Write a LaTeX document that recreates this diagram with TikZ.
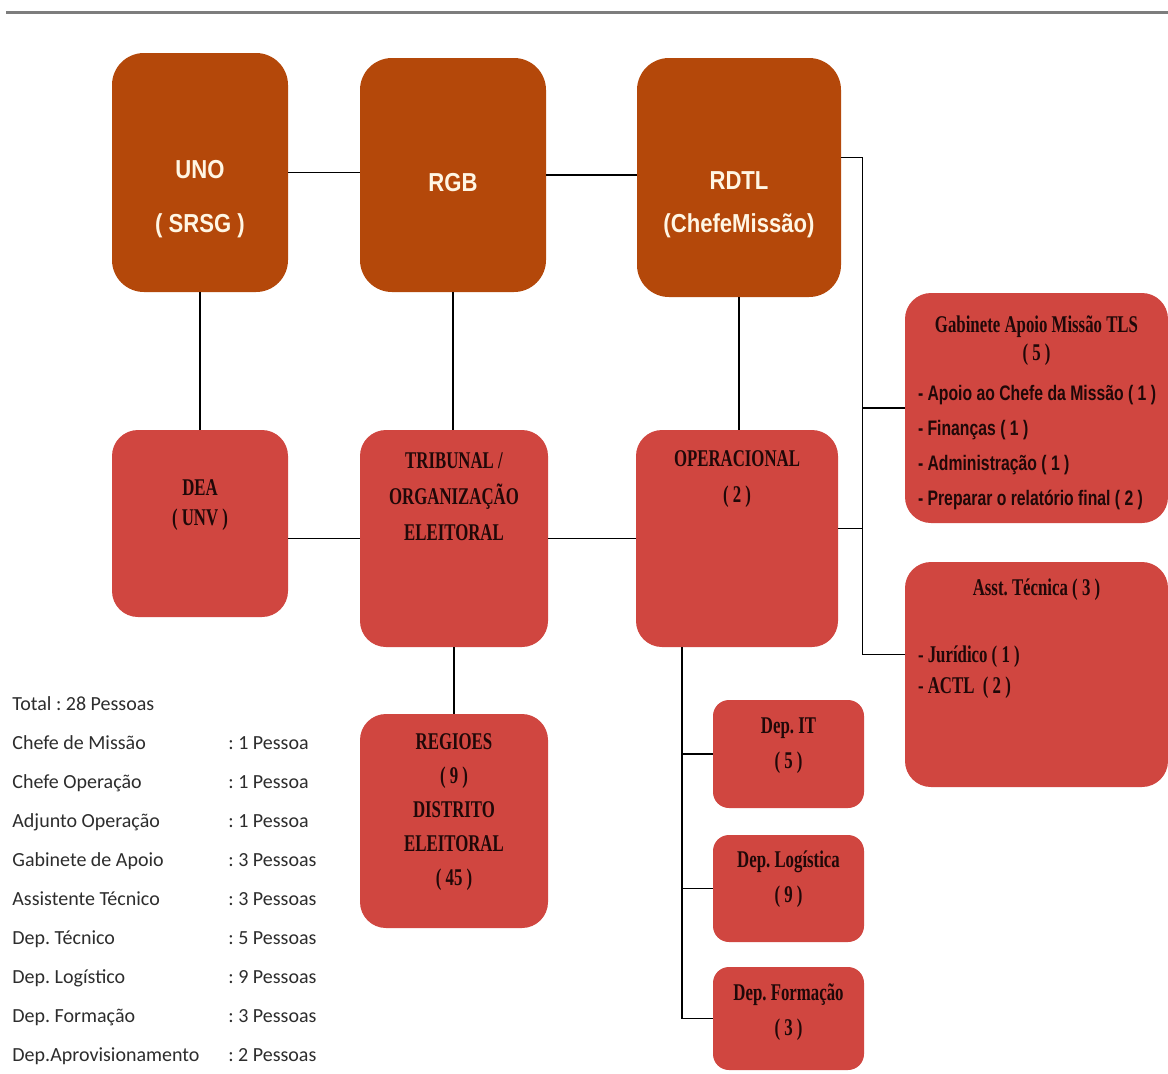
\documentclass[tikz,border=0pt]{standalone}
\usepackage{fontspec}
\usepackage{xcolor}
\usetikzlibrary{positioning}
\setmainfont{Liberation Serif}
\newfontfamily\topfont[FakeStretch=0.85]{Liberation Sans}
\newfontfamily\boxfont[FakeStretch=0.7]{Liberation Serif}
\newfontfamily\itemfont[FakeStretch=0.75]{Liberation Sans}
\newfontfamily\legendfont{Carlito}
\definecolor{topbrown}{RGB}{180,72,10}
\definecolor{boxred}{RGB}{208,70,64}
\definecolor{toptext}{RGB}{255,246,228}
\definecolor{boxtext}{RGB}{32,8,8}
\definecolor{rulegray}{RGB}{125,125,125}
\definecolor{legendgray}{RGB}{45,45,45}
\frenchspacing

\begin{document}
\begin{tikzpicture}[x=0.5pt,y=-0.5pt,
  topbox/.style={fill=topbrown, rounded corners=16pt, inner sep=0pt},
  redbox/.style={fill=boxred, rounded corners=13pt, inner sep=0pt},
  depbox/.style={redbox, rounded corners=8pt, minimum width=75.5pt},
  toplabel/.style={text=toptext, font=\topfont\bfseries\fontsize{13}{16}\selectfont, align=center, inner sep=0pt},
  boxlabel/.style={text=boxtext, font=\boxfont\bfseries\fontsize{12}{18}\selectfont, align=center, inner sep=0pt},
  itemlabel/.style={text=boxtext, font=\itemfont\bfseries\fontsize{10.5}{17.5}\selectfont, align=left, inner sep=0pt},
  legendtxt/.style={text=legendgray, font=\legendfont\fontsize{10}{12}\selectfont, inner sep=0pt},
  link/.style={draw=black, line width=0.8pt}]
  \useasboundingbox (0,0) rectangle (1168,1073);
  \fill[white] (0,0) rectangle (1168,1073);
  \draw[rulegray, line width=1.5pt] (6,12) -- (1168,12);

  % top row
  \node (uno) [topbox, minimum width=88pt, minimum height=119.5pt] at (200,172.5) {};
  \node (rgb) [topbox, minimum width=93pt, minimum height=117pt] at (453,175) {};
  \node (rdtl) [topbox, minimum width=102pt, minimum height=119.5pt] at (739,177.5) {};
  \node (unotxt) [toplabel] at ([yshift=-13.25pt]uno.center) {UNO\\[11pt]( SRSG )};
  \node (rgbtxt) [toplabel] at ([yshift=-4pt]rgb.center) {RGB};
  \node (rdtltxt) [toplabel] at ([yshift=-13.5pt]rdtl.center) {RDTL\\[5.5pt](ChefeMissão)};

  % second row
  \node (dea) [redbox, minimum width=88pt, minimum height=93.5pt] at (200,523.5) {};
  \node (trib) [redbox, minimum width=94pt, minimum height=108.5pt] at (454,538.5) {};
  \node (oper) [redbox, minimum width=101pt, minimum height=108.5pt] at (737,538.5) {};
  \node (deatxt) [boxlabel] at ([yshift=9.25pt]dea.center) {DEA\\[-3pt]( UNV )};
  \node (tribtxt) [boxlabel] at ([yshift=20.75pt]trib.center) {TRIBUNAL /\\ORGANIZAÇÃO\\ELEITORAL};
  \node (opertxt) [boxlabel] at ([yshift=29.75pt]oper.center) {OPERACIONAL\\( 2 )};

  % right column
  \node (gab) [redbox, minimum width=131.5pt, minimum height=115pt] at (1036.5,408) {};
  \node (asst) [redbox, minimum width=131.5pt, minimum height=112.5pt] at (1036.5,674.5) {};
  \node (gabtxt) [boxlabel] at ([yshift=33.5pt]gab.center) {Gabinete Apoio Missão TLS\\[-4pt]( 5 )};
  \node (gabitems) [itemlabel, anchor=west] at ([xshift=6.5pt,yshift=-19.75pt]gab.west)
    {- Apoio ao Chefe da Missão ( 1 )\\- Finanças ( 1 )\\- Administração ( 1 )\\- Preparar o relatório final ( 2 )};
  \node (assttxt) [boxlabel] at ([yshift=42.25pt]asst.center) {Asst. Técnica ( 3 )};
  \node (asstitems) [boxlabel, align=left, anchor=west] at ([xshift=6.5pt,yshift=1pt]asst.west)
    {- Jurídico ( 1 )\\[-2.5pt]- ACTL \ ( 2 )};

  % lower boxes
  \node (regioes) [redbox, minimum width=94pt, minimum height=107pt] at (454,821) {};
  \node (regtxt) [boxlabel] at ([yshift=4.25pt]regioes.center) {REGIOES\\[-1pt]( 9 )\\[-1pt]DISTRITO\\[-1pt]ELEITORAL\\[-1pt]( 45 )};
  \node (depit) [depbox, minimum height=54pt] at (788.5,754) {};
  \node (deplog) [depbox, minimum height=53.5pt] at (788.5,888.5) {};
  \node (depform) [depbox, minimum height=51.5pt] at (788.5,1018.5) {};
  \node (depittxt) [boxlabel] at ([yshift=4.25pt]depit.center) {Dep. IT\\[-0.5pt]( 5 )};
  \node (deplogtxt) [boxlabel] at ([yshift=4.5pt]deplog.center) {Dep. Logística\\[-0.5pt]( 9 )};
  \node (depformtxt) [boxlabel] at ([yshift=3pt]depform.center) {Dep. Formação\\[-0.5pt]( 3 )};

  % staff count
  \node (legend) [legendtxt, anchor=base west] at (12,710) {\renewcommand{\arraystretch}{1.625}%
    \begin{tabular}[t]{@{}p{108pt}@{}l@{}}
      \multicolumn{2}{@{}l@{}}{Total : 28 Pessoas}\\
      Chefe de Missão & : 1 Pessoa\\
      Chefe Operação & : 1 Pessoa\\
      Adjunto Operação & : 1 Pessoa\\
      Gabinete de Apoio & : 3 Pessoas\\
      Assistente Técnico & : 3 Pessoas\\
      Dep. Técnico & : 5 Pessoas\\
      Dep. Logístico & : 9 Pessoas\\
      Dep. Formação & : 3 Pessoas\\
      Dep.Aprovisionamento & : 2 Pessoas
    \end{tabular}};

  % connectors
  \coordinate (bus) at ([xshift=12pt]oper.east);
  \coordinate (rdtlout) at ([yshift=10pt]rdtl.east);
  \coordinate (asstin) at ([yshift=10pt]asst.west);
  \coordinate (operout) at ([yshift=5pt]oper.east);
  \coordinate (spine) at ([xshift=-27.5pt]oper.south);
  \draw[link] (uno.east) -- (uno.east -| rgb.west);
  \draw[link] (rgb.east) -- (rgb.east -| rdtl.west);
  \draw[link] (uno.south) -- (dea.north);
  \draw[link] (rgb.south) -- (rgb.south |- trib.north);
  \draw[link] (rdtl.south) -- (rdtl.south |- oper.north);
  \draw[link] (dea.east |- trib.west) -- (trib.west);
  \draw[link] (trib.east) -- (oper.west);
  \draw[link] (trib.south) -- (regioes.north);
  \draw[link] (rdtlout) -| (bus |- asstin) -- (asstin);
  \draw[link] (bus |- gab.west) -- (gab.west);
  \draw[link] (operout) -- (operout -| bus);
  \draw[link] (spine) |- (depform.west);
  \draw[link] (spine |- depit.west) -- (depit.west);
  \draw[link] (spine |- deplog.west) -- (deplog.west);
\end{tikzpicture}
\end{document}
